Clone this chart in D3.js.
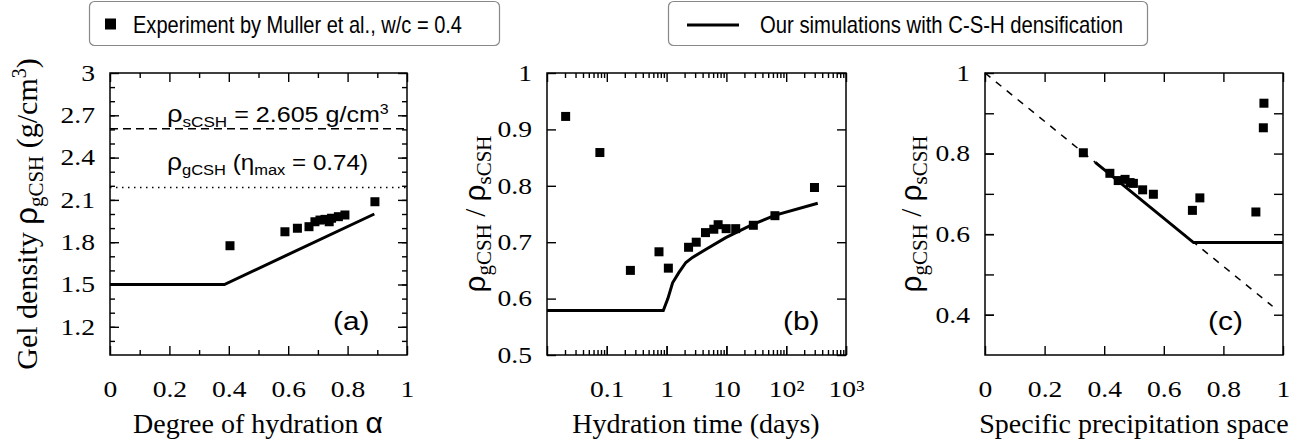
<!DOCTYPE html>
<html>
<head>
<meta charset="utf-8">
<script src="https://cdn.jsdelivr.net/npm/d3@7"></script>
<style>
  body { margin: 0; background: #fff; }
  svg text { fill: #000; }
</style>
</head>
<body>
<div id="chart"></div>
<script>
// ---- data ----
// (a) gel density vs degree of hydration
const alphaExp   = [0.404, 0.589, 0.631, 0.670, 0.690, 0.707, 0.724, 0.738, 0.746, 0.769, 0.791, 0.892];
const densityExp = [1.775, 1.874, 1.899, 1.910, 1.945, 1.957, 1.962, 1.945, 1.970, 1.981, 1.993, 2.087];
const alphaSim   = [0, 0.385, 0.89];
const densitySim = [1.5, 1.5, 2.0];
const rhoSolid = 2.605;   // dashed line
const rhoGelMax = 2.188;  // dotted line

// (b) density ratio vs hydration time (days)
const timeExp  = [0.0205, 0.0766, 0.248, 0.746, 1.07, 2.33, 3.13, 4.47, 6.16, 7.27, 9.9, 14.3, 28.2, 64.8, 297];
const ratioExp = [0.923, 0.859, 0.650, 0.683, 0.654, 0.691, 0.700, 0.717, 0.723, 0.731, 0.724, 0.724, 0.730, 0.747, 0.797];
const timeSim  = [0.01, 0.88, 1.05, 1.26, 1.6, 2.1, 2.71, 4.5, 9.77, 27, 66, 337];
const ratioSim = [0.579, 0.579, 0.600, 0.628, 0.646, 0.664, 0.673, 0.687, 0.708, 0.731, 0.748, 0.769];

// (c) density ratio vs specific precipitation space
const spaceExp  = [0.330, 0.419, 0.447, 0.470, 0.487, 0.498, 0.529, 0.565, 0.696, 0.721, 0.909, 0.934, 0.936];
const ratioExpC = [0.802, 0.751, 0.733, 0.736, 0.728, 0.726, 0.710, 0.699, 0.659, 0.690, 0.655, 0.864, 0.925];
const spaceSim  = [0.37, 0.70, 1.0];
const ratioSimC = [0.778, 0.579, 0.579];
const spaceRef  = [0, 0.965];
const ratioRef  = [1, 0.421];

// ticks
const aXTicks = [0, 0.2, 0.4, 0.6, 0.8, 1];
const aYTicks = [1.2, 1.5, 1.8, 2.1, 2.4, 2.7, 3];
const bXTicks = [0.1, 1, 10, 100, 1000];
const bXLabels = ["0.1", "1", "10", "10\u00b2", "10\u00b3"];
const bYTicks = [0.5, 0.6, 0.7, 0.8, 0.9, 1];
const cXTicks = [0, 0.2, 0.4, 0.6, 0.8, 1];
const cYTicks = [0.4, 0.6, 0.8, 1];

const legendLabels = ["Experiment by Muller et al., w/c = 0.4", "Our simulations with C-S-H densification"];

// ---- layout ----
const serif = "'Liberation Serif', 'Times New Roman', serif";
const sans = "'Liberation Sans', Arial, Helvetica, sans-serif";
const plotTop = 73, plotBottom = 355;
const ph = plotBottom - plotTop;
const fmt = d3.format("~g");

let svg = d3.select("#chart")
  .append("svg")
  .attr("width", 1309)
  .attr("height", 444);

//stretch text horizontally (figure text is wider than plain Times)
function stretch(sel, k){
  sel.each(function(){
    let t = d3.select(this);
    let x = +t.attr("x") || 0;
    t.attr("x", x / k).attr("transform", `scale(${k},1)`);
  });
}

function axis(g, ax, transform, labelled){
  let a = g.append("g").attr("transform", transform).call(ax)
    .attr("font-family", serif)
    .attr("font-size", 23);
  a.select(".domain").remove();
  a.selectAll("line").attr("stroke", "#000").attr("stroke-width", 1.4);
  if (!labelled) a.selectAll("text").remove();
  else {
    a.selectAll("text")
      .attr("font-family", serif)
      .style("font-family", serif)
      .style("font-size", "23px")
      .attr("fill", "#000");
    stretch(a.selectAll("text"), 1.2);
  }
  return a;
}

function panel(left, right){
  let g = svg.append("g").attr("transform", `translate(${left},${plotTop})`);
  g.w = right - left;
  return g;
}

function frame(g){
  g.append("rect")
    .attr("width", g.w).attr("height", ph)
    .attr("fill", "none").attr("stroke", "#000").attr("stroke-width", 1.5);
}

function squares(g, xs, ys, x, y){
  g.selectAll(null)
    .data(xs.map((d, i) => [d, ys[i]]))
    .enter().append("rect")
    .attr("x", d => x(d[0]) - 4.5)
    .attr("y", d => y(d[1]) - 4.5)
    .attr("width", 9).attr("height", 9)
    .attr("fill", "#000");
}

function curve(g, xs, ys, x, y, width, dash){
  let line = d3.line().x(d => x(d[0])).y(d => y(d[1]));
  g.append("path")
    .attr("d", line(xs.map((d, i) => [d, ys[i]])))
    .attr("fill", "none").attr("stroke", "#000")
    .attr("stroke-width", width)
    .attr("stroke-dasharray", dash || null);
}

//rich text made of tspans: [text, font, size, dy]
function rich(parent, x, y, parts, anchor){
  let t = parent.append("text")
    .attr("x", x).attr("y", y)
    .attr("text-anchor", anchor || "start");
  parts.forEach(p => {
    t.append("tspan")
      .style("font-family", p[1])
      .style("font-size", p[2] + "px")
      .attr("dy", p[3] || 0)
      .text(p[0]);
  });
  return t;
}

function yTitle(cx, parts){
  let g = svg.append("g").attr("transform", `translate(${cx},${(plotTop + plotBottom) / 2}) rotate(-90)`);
  rich(g, 0, 0, parts, "middle");
}

function xTitle(cx, parts){
  rich(svg, cx, 433, parts, "middle");
}

// ---- panel (a) ----
let ga = panel(110, 407);
let xa = d3.scaleLinear().domain([0, 1]).range([0, ga.w]);
let ya = d3.scaleLinear().domain([1, 3]).range([ph, 0]);
let aMinorX = d3.range(0.1, 1, 0.2);
let aMinorY = d3.range(1.1, 3, 0.1);

axis(ga, d3.axisBottom(xa).tickValues(aXTicks).tickFormat(fmt).tickSize(-9).tickPadding(26), `translate(0,${ph})`, true);
axis(ga, d3.axisBottom(xa).tickValues(aMinorX).tickSize(-5), `translate(0,${ph})`, false);
axis(ga, d3.axisTop(xa).tickValues(aXTicks).tickSize(-9), "translate(0,0)", false);
axis(ga, d3.axisTop(xa).tickValues(aMinorX).tickSize(-5), "translate(0,0)", false);
axis(ga, d3.axisLeft(ya).tickValues(aYTicks).tickFormat(fmt).tickSize(-9).tickPadding(15), "translate(0,0)", true);
axis(ga, d3.axisLeft(ya).tickValues(aMinorY).tickSize(-5), "translate(0,0)", false);
axis(ga, d3.axisRight(ya).tickValues(aYTicks).tickSize(-9), `translate(${ga.w},0)`, false);
axis(ga, d3.axisRight(ya).tickValues(aMinorY).tickSize(-5), `translate(${ga.w},0)`, false);

ga.append("line")
  .attr("x1", 0).attr("x2", ga.w)
  .attr("y1", ya(rhoSolid)).attr("y2", ya(rhoSolid))
  .attr("stroke", "#000").attr("stroke-width", 1.5).attr("stroke-dasharray", "8,5");
ga.append("line")
  .attr("x1", 0).attr("x2", ga.w)
  .attr("y1", ya(rhoGelMax)).attr("y2", ya(rhoGelMax))
  .attr("stroke", "#000").attr("stroke-width", 1.5).attr("stroke-dasharray", "1.5,4.5");

curve(ga, alphaSim, densitySim, xa, ya, 3);
squares(ga, alphaExp, densityExp, xa, ya);

stretch(rich(ga, 57, 49, [["\u03c1", sans, 24], ["sCSH", sans, 15, 5], [" = 2.605 g/cm", sans, 22, -5], ["3", sans, 14, -8]]), 1.14);
stretch(rich(ga, 57, 97, [["\u03c1", sans, 24], ["gCSH", sans, 15, 5], [" (\u03b7", sans, 22, -5], ["max", sans, 15, 5], [" = 0.74)", sans, 22, -5]]), 1.1);
stretch(rich(ga, 223, 257, [["(a)", sans, 26]]), 1.15);
frame(ga);

// ---- panel (b) ----
let gb = panel(547, 846);
let xb = d3.scaleLog().domain([0.01, 1000]).range([0, gb.w]);
let yb = d3.scaleLinear().domain([0.5, 1]).range([ph, 0]);
let bMajor = [0.01].concat(bXTicks);
let bMinor = [];
[0.01, 0.1, 1, 10, 100].forEach(dec => { for (let m = 2; m < 10; m++) bMinor.push(dec * m); });

axis(gb, d3.axisBottom(xb).tickValues(bXTicks).tickFormat((d, i) => bXLabels[i]).tickSize(-9).tickPadding(26), `translate(0,${ph})`, true);
axis(gb, d3.axisBottom(xb).tickValues(bMajor).tickSize(-9), `translate(0,${ph})`, false);
axis(gb, d3.axisBottom(xb).tickValues(bMinor).tickSize(-5), `translate(0,${ph})`, false);
axis(gb, d3.axisTop(xb).tickValues(bMajor).tickSize(-9), "translate(0,0)", false);
axis(gb, d3.axisTop(xb).tickValues(bMinor).tickSize(-5), "translate(0,0)", false);
axis(gb, d3.axisLeft(yb).tickValues(bYTicks).tickFormat(fmt).tickSize(-9).tickPadding(15), "translate(0,0)", true);
axis(gb, d3.axisRight(yb).tickValues(bYTicks).tickSize(-9), `translate(${gb.w},0)`, false);

curve(gb, timeSim, ratioSim, xb, yb, 3);
squares(gb, timeExp, ratioExp, xb, yb);
stretch(rich(gb, 236, 257, [["(b)", sans, 26]]), 1.15);
frame(gb);

// ---- panel (c) ----
let gc = panel(985, 1283);
let xc = d3.scaleLinear().domain([0, 1]).range([0, gc.w]);
let yc = d3.scaleLinear().domain([0.3, 1]).range([ph, 0]);
let cAllY = d3.range(0.4, 1, 0.1);

axis(gc, d3.axisBottom(xc).tickValues(cXTicks).tickFormat(fmt).tickSize(-9).tickPadding(26), `translate(0,${ph})`, true);
axis(gc, d3.axisTop(xc).tickValues(cXTicks).tickSize(-9), "translate(0,0)", false);
axis(gc, d3.axisLeft(yc).tickValues(cYTicks).tickFormat(fmt).tickSize(-9).tickPadding(15), "translate(0,0)", true);
axis(gc, d3.axisLeft(yc).tickValues(cAllY).tickSize(-9), "translate(0,0)", false);
axis(gc, d3.axisRight(yc).tickValues(cAllY).tickSize(-9), `translate(${gc.w},0)`, false);

curve(gc, spaceRef, ratioRef, xc, yc, 1.5, "7,7");
curve(gc, spaceSim, ratioSimC, xc, yc, 3);
squares(gc, spaceExp, ratioExpC, xc, yc);
stretch(rich(gc, 223, 257, [["(c)", sans, 26]]), 1.15);
frame(gc);

// ---- axis titles ----
yTitle(37, [["Gel density ", serif, 30], ["\u03c1", sans, 31], ["gCSH", serif, 21, 6], [" (g/cm", serif, 30, -6], ["3", serif, 20, -11], [")", serif, 30, 11]]);
yTitle(485, [["\u03c1", sans, 30], ["gCSH", serif, 21, 6], [" / ", serif, 29, -6], ["\u03c1", sans, 30], ["sCSH", serif, 21, 6]]);
yTitle(921, [["\u03c1", sans, 30], ["gCSH", serif, 21, 6], [" / ", serif, 29, -6], ["\u03c1", sans, 30], ["sCSH", serif, 21, 6]]);

xTitle(258, [["Degree of hydration ", serif, 28], ["\u03b1", sans, 30]]);
xTitle(696, [["Hydration time (days)", serif, 28]]);
xTitle(1134, [["Specific precipitation space", serif, 28]]);

// ---- legend ----
let leg = svg.append("g");
leg.append("rect").attr("x", 89.5).attr("y", 1.5).attr("width", 410).attr("height", 44).attr("rx", 5)
  .attr("fill", "#fff").attr("stroke", "#888").attr("stroke-width", 1.2);
leg.append("rect").attr("x", 105).attr("y", 18.5).attr("width", 11).attr("height", 11).attr("fill", "#000");
leg.append("text").attr("x", 133).attr("y", 33)
  .style("font-family", sans).style("font-size", "24px")
  .attr("textLength", 329).attr("lengthAdjust", "spacingAndGlyphs")
  .text(legendLabels[0]);

leg.append("rect").attr("x", 668.5).attr("y", 1.5).attr("width", 479).attr("height", 44).attr("rx", 5)
  .attr("fill", "#fff").attr("stroke", "#888").attr("stroke-width", 1.2);
leg.append("line").attr("x1", 687).attr("x2", 739).attr("y1", 25).attr("y2", 25)
  .attr("stroke", "#000").attr("stroke-width", 3);
leg.append("text").attr("x", 760).attr("y", 33)
  .style("font-family", sans).style("font-size", "24px")
  .attr("textLength", 363).attr("lengthAdjust", "spacingAndGlyphs")
  .text(legendLabels[1]);
</script>
</body>
</html>
